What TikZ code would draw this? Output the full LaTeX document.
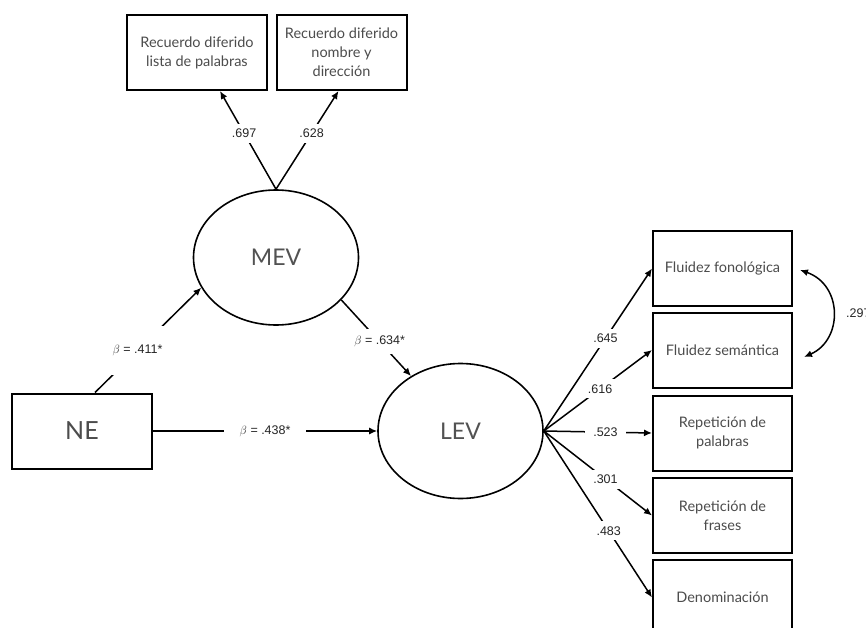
\documentclass[tikz,border=0pt]{standalone}
\usepackage{fontspec}
\setmainfont{Lato}
\newfontfamily\labfont{Liberation Sans}
\usetikzlibrary{arrows.meta,calc,shapes.geometric}
\begin{document}
\begin{tikzpicture}[x=1pt,y=-1pt,
  box/.style={draw, line width=2pt, minimum width=139pt, minimum height=75pt, inner sep=0pt, align=center, text=black!70, font=\fontsize{14.5}{19}\selectfont},
  lat/.style={draw, ellipse, line width=1.6pt, minimum width=165pt, minimum height=135pt, inner sep=0pt, text=black!68, font=\fontsize{23}{27}\selectfont},
  conn/.style={line width=1.5pt},
  arr/.style={conn, -{Latex[length=8pt,width=7pt]}},
  lab/.style={fill=white, inner sep=5pt, font=\labfont\fontsize{12.5}{14}\selectfont, text=black!85},
]
\useasboundingbox (0,0) rectangle (866,628);
\clip (0,0) rectangle (866,628);
\fill[white] (0,0) rectangle (866,628);

% top indicators
\node[box, minimum width=140pt] (r1) at (197,52.5) {Recuerdo diferido\\lista de palabras};
\node[box, minimum width=130pt] (r2) at (341.5,52.5) {Recuerdo diferido\\nombre y\\dirección};

% latent variables
\node[lat] (mev) at (276,257.5) {MEV};
\node[lat] (lev) at (460.5,431) {LEV};

% observed predictor
\node[box, minimum width=140pt, font=\fontsize{25}{29}\selectfont] (ne) at (82,431) {NE};

% right indicators
\node[box] (f1) at (722.5,268.5) {Fluidez fonológica};
\node[box] (f2) at (722.5,350) {Fluidez semántica};
\node[box] (f3) at (722.5,433) {Repetición de\\palabras};
\node[box] (f4) at (722.5,515.5) {Repetición de\\frases};
\node[box] (f5) at (722.5,597.5) {Denominación};

% MEV loadings
\draw[arr] (mev.north) -- node[lab,pos=0.57] {.697} ([xshift=23pt]r1.south);
\draw[arr] (mev.north) -- node[lab,pos=0.57] {.628} ([xshift=-3pt]r2.south);

% structural paths
\draw[arr] ([xshift=13pt]ne.north) -- node[lab, inner ysep=19pt, pos=0.4] {$\beta$ = .411*} (mev.202);
\draw[arr] (mev.-33) -- node[lab, inner ysep=7pt, pos=0.55] {$\beta$ = .634*} (lev.132);
\draw[arr] (ne.east) -- node[lab, inner xsep=16pt] {$\beta$ = .438*} (lev.west);

% LEV loadings
\draw[arr] (lev.east) -- node[lab,pos=0.57] {.645} (f1.west);
\draw[arr] (lev.east) -- node[lab,pos=0.52] {.616} (f2.west);
\draw[arr] (lev.east) -- node[lab,pos=0.57, inner xsep=8pt] {.523} (f3.west);
\draw[arr] (lev.east) -- node[lab,pos=0.57] {.301} (f4.west);
\draw[arr] (lev.east) -- node[lab,pos=0.6] {.483} (f5.west);

% covariance
\draw[conn, {Latex[length=8pt,width=7pt]}-{Latex[length=8pt,width=7pt]}]
  ($(f1.east)+(7,1.5)$) .. controls ($(f1.east)+(50,16.5)$) and ($(f2.east)+(50,-10)$) .. ($(f2.east)+(11,7)$);
\node[font=\labfont\fontsize{12.5}{14}\selectfont, text=black!85, anchor=west, inner sep=0pt] (cov) at ($(f1.east)!0.5!(f2.east)+(53,4)$) {.297};
\end{tikzpicture}
\end{document}
